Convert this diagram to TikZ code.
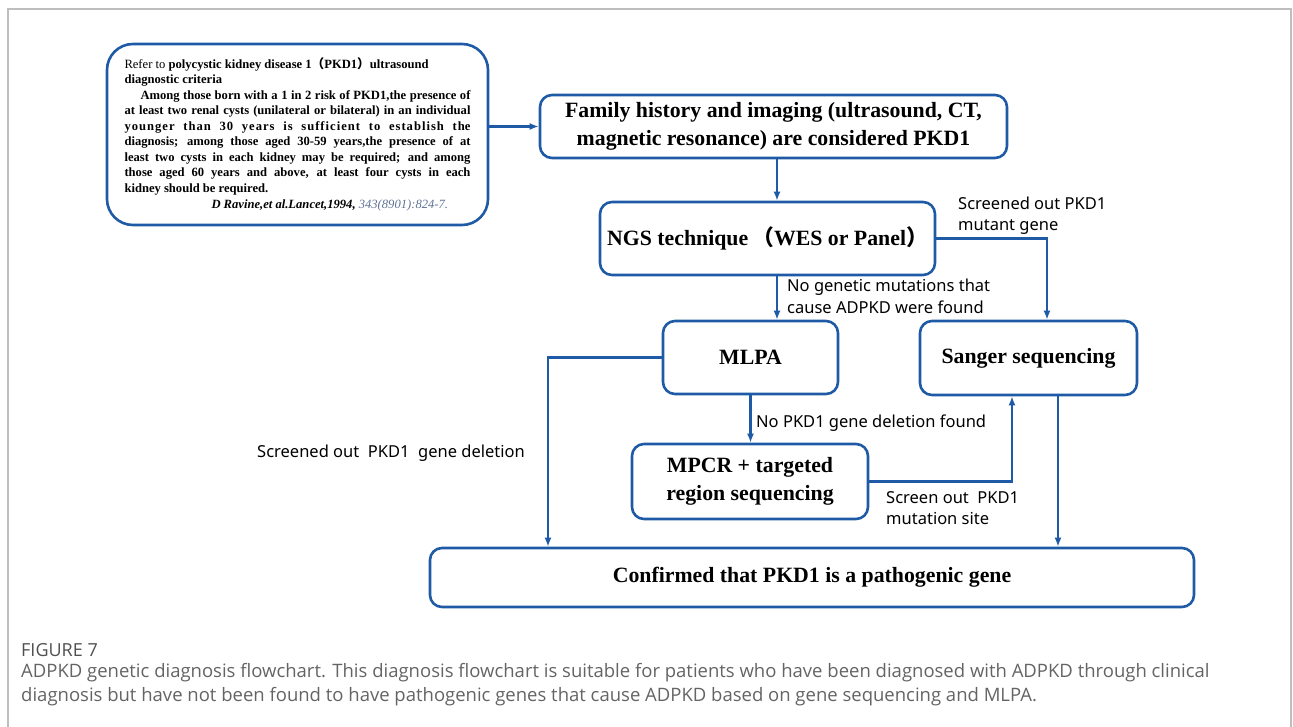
\documentclass[tikz,border=0pt]{standalone}
\usepackage{fontspec}
\setmainfont{Liberation Serif}
\newfontfamily\labelfont{Noto Sans}
\newfontfamily\capfont{Open Sans}
\newfontfamily\cjk{Noto Sans CJK SC}
\usetikzlibrary{arrows.meta}
\definecolor{flowblue}{RGB}{30,90,165}
\definecolor{refblue}{RGB}{95,115,150}
\definecolor{framegray}{RGB}{190,190,190}
\definecolor{capgray}{RGB}{100,100,100}
\tikzset{
  flowbox/.style={draw=flowblue, line width=2.6pt, rounded corners=12pt, fill=white,
    align=center, inner sep=0pt, font=\fontsize{21.8}{28}\selectfont\bfseries},
  arr/.style={draw=flowblue, line width=2.4pt, -{Latex[length=9pt,width=7pt]}},
  lbl/.style={font=\labelfont\fontsize{16.5}{21}\selectfont, inner sep=0pt, anchor=base west},
}
\newcommand{\jline}[1]{\makebox[346pt][s]{#1}}
\newcommand{\lline}[1]{\makebox[346pt][l]{#1}}
\newcommand{\toplines}[1]{\begin{tabular}[t]{@{}l@{}}#1\end{tabular}}
\begin{document}
\begin{tikzpicture}[x=1pt,y=-1pt]
\useasboundingbox (0,0) rectangle (1293,727);
\draw[framegray, line width=1.3pt] (8,727) -- (8,9) -- (1291,9) -- (1291,727);

% boxes
\node[flowbox, rounded corners=26pt, minimum width=381pt, minimum height=181pt,
  font=\fontsize{12.6}{15.5}\selectfont\bfseries, align=left] (ref) at (297.5,134.5) {%
\lline{{\mdseries Refer to} polycystic kidney disease 1{\cjk （}PKD1{\cjk ）}ultrasound}\\
\lline{diagnostic criteria}\\
\jline{\hspace*{16pt}Among those born with a 1 in 2 risk of PKD1,the presence of}\\
\jline{at least two renal cysts (unilateral or bilateral) in an individual}\\
\jline{{\addfontfeature{LetterSpace=8}younger than 30 years is sufficient to establish th}e}\\
\jline{diagnosis; among those aged 30-59 years,the presence of at}\\
\jline{least two cysts in each kidney may be required; and among}\\
\jline{those aged 60 years and above, at least four cysts in each}\\
\lline{kidney should be required.}\\[1pt]
\lline{\hspace*{87pt}\itshape D Ravine,et al.Lancet,1994, {\mdseries\color{refblue}343(8901):824-7.}}};

\node[flowbox, minimum width=467pt, minimum height=63pt] (fam) at (773.5,126.5)
  {Family history and imaging (ultrasound, CT,\\magnetic resonance) are considered PKD1};
\node[flowbox, minimum width=335pt, minimum height=73pt] (ngs) at (767.5,238.5)
  {NGS technique\hspace{4pt}{\cjk （}WES or Panel{\cjk ）}};
\node[flowbox, minimum width=175pt, minimum height=73pt] (mlpa) at (750.5,357.5) {MLPA};
\node[flowbox, minimum width=217pt, minimum height=74pt] (sanger) at (1028.5,358) {Sanger sequencing};
\node[flowbox, minimum width=236pt, minimum height=75pt] (mpcr) at (750,481.5)
  {MPCR + targeted\\region sequencing};
\node[flowbox, minimum width=764pt, minimum height=59pt] (conf) at (812,577.5)
  {Confirmed that PKD1 is a pathogenic gene};

% helper x positions
\coordinate (c1) at (777,0);
\coordinate (c2) at (1047,0);
\coordinate (c3) at (1012,0);
\coordinate (c4) at (1058,0);
\coordinate (c5) at (548,0);

% connectors
\draw[arr] (ref.east |- fam.west) -- (fam.west);
\draw[arr] (c1 |- fam.south) -- (c1 |- ngs.north);
\draw[arr] (c1 |- ngs.south) -- (c1 |- mlpa.north);
\draw[arr] (ngs.east) -- (ngs.east -| c2) -- (c2 |- sanger.north);
\draw[arr] (mlpa.south) -- (mlpa.south |- mpcr.north);
\draw[arr] (mpcr.east) -- (mpcr.east -| c3) -- (c3 |- sanger.south);
\draw[arr] (c4 |- sanger.south) -- (c4 |- conf.north);
\draw[arr] (mlpa.west) -- (mlpa.west -| c5) -- (c5 |- conf.north);

% labels
\node[lbl] (l1) at (958,210) {\toplines{Screened out PKD1\\mutant gene}};
\node[lbl] (l2) at (787,292) {\toplines{No genetic mutations that\\cause ADPKD were found}};
\node[lbl] (l3) at (756,427) {No PKD1 gene deletion found};
\node[lbl] (l4) at (886,503) {\toplines{Screen out\ \ PKD1\\mutation site}};
\node[lbl] (l5) at (257,457) {Screened out\ \ PKD1\ \ gene deletion};

% caption
\node[font=\capfont\fontsize{18}{24}\selectfont, text=capgray!80!black, anchor=base west, inner sep=0pt] (fig) at (21,656) {FIGURE 7};
\node[font=\capfont\fontsize{18.5}{24}\selectfont, text=capgray, anchor=base west, inner sep=0pt] (cap) at (21,677)
  {\toplines{ADPKD genetic diagnosis flowchart. This diagnosis flowchart is suitable for patients who have been diagnosed with ADPKD through clinical\\
   diagnosis but have not been found to have pathogenic genes that cause ADPKD based on gene sequencing and MLPA.}};
\end{tikzpicture}
\end{document}
